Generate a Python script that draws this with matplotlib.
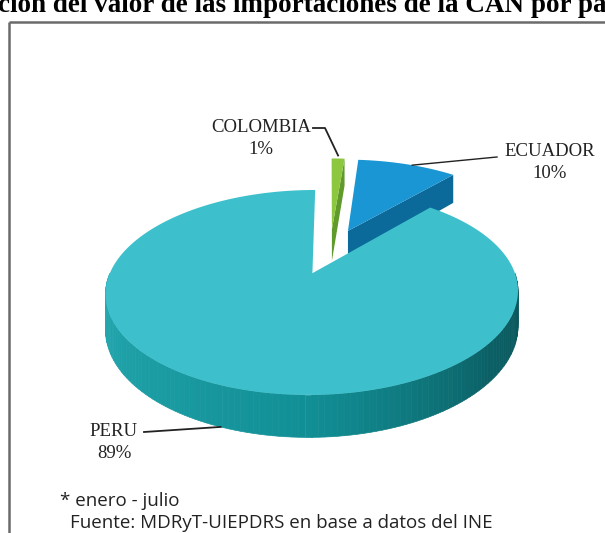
import numpy as np
import matplotlib.pyplot as plt
from matplotlib.patches import Polygon
from matplotlib.colors import to_rgb

paises = ['COLOMBIA', 'ECUADOR', 'PERU']
valores = [1.3, 10.0, 88.7]
etiquetas = ['1%', '10%', '89%']
col_top = ['#8dc63f', '#1a96d4', '#3dc0cc']
col_cara = ['#5f9a2b', '#0b6a99', '#0b6a70']

W, H = 605, 533
fig = plt.figure(figsize=(6.05, 5.33), dpi=100)
ax = fig.add_axes([0, 0, 1, 1])
ax.set_xlim(0, W)
ax.set_ylim(H, 0)
ax.axis('off')

# proyeccion "3D" con algo de perspectiva
cx, cy = 330, 251
rx, ry, k = 194, 90.7, 0.18
depth = 33
explode = 0.25

def proj(u, v, z=0.0):
    s = 1.0 / (1.0 + k * v)
    return cx + rx * u * s, cy - ry * v * s + z * s

def rim(off, t, z=0.0):
    return proj(off[0] + np.sin(t), off[1] + np.cos(t), z)

# gradiente de la pared frontal
ang_nodos = np.radians([90, 130, 180, 270])
col_nodos = np.array([to_rgb(c) for c in ['#0b5257', '#0b6166', '#118f95', '#27abb3']])

def pared_color(t):
    return [np.interp(t, ang_nodos, col_nodos[:, j]) for j in range(3)]

total = sum(valores)
fin = np.cumsum(valores) / total * 2 * np.pi
ini = np.concatenate([[0], fin[:-1]])

offsets = []
for i in range(len(valores)):
    t0, t1 = ini[i], fin[i]
    mid = (t0 + t1) / 2
    off = (explode * np.sin(mid), explode * np.cos(mid))
    offsets.append(off)
    apex_t = proj(off[0], off[1])
    apex_b = proj(off[0], off[1], depth)

    # caras radiales
    if np.sin(t1) > 1e-6:
        pts = [apex_t, rim(off, t1), rim(off, t1, depth), apex_b]
        ax.add_patch(Polygon(pts, closed=True, fc=col_cara[i], ec='none'))
    if np.sin(t0) < -1e-6:
        pts = [apex_t, rim(off, t0), rim(off, t0, depth), apex_b]
        ax.add_patch(Polygon(pts, closed=True, fc=col_cara[i], ec='none'))

    # pared exterior visible
    a = max(t0, np.pi / 2)
    b = min(t1, 3 * np.pi / 2)
    if b > a:
        ts = np.linspace(a, b, 120)
        for j in range(len(ts) - 1):
            pts = [rim(off, ts[j]), rim(off, ts[j + 1]),
                   rim(off, ts[j + 1], depth), rim(off, ts[j], depth)]
            c = pared_color((ts[j] + ts[j + 1]) / 2)
            ax.add_patch(Polygon(pts, closed=True, fc=c, ec=c, lw=0.5))

    # cara superior
    ts = np.linspace(t0, t1, 200)
    pts = [apex_t] + [rim(off, t) for t in ts]
    ax.add_patch(Polygon(pts, closed=True, fc=col_top[i], ec='none'))

# etiquetas y lineas guia
serif = 'Liberation Serif'
fs = 13.5
txt_pos = [(261, 128), (550, 152), (114, 432)]
for i, (x, y) in enumerate(txt_pos):
    ax.text(x, y, paises[i], ha='center', va='center', fontsize=fs,
            family=serif, color='#222222')
    ax.text(x, y + 22, etiquetas[i], ha='center', va='center', fontsize=fs,
            family=serif, color='#222222')

t_col = (ini[0] + fin[0]) / 2
px, py = rim(offsets[0], t_col)
ax.plot([313, 325, px], [128, 128, py - 3], color='#222222', lw=1.3)

t_ecu = ini[1] + 0.55 * (fin[1] - ini[1])
px, py = rim(offsets[1], t_ecu)
ax.plot([497, px], [157, py], color='#222222', lw=1.0)

t_per = np.radians(201)
px, py = rim(offsets[2], t_per, depth)
ax.plot([144, px], [432, py], color='#222222', lw=1.3)

# titulo recortado y marco
ax.text(302, 12, 'ción del valor de las importaciones de la CAN por pa',
        ha='center', va='baseline', fontsize=19.5, family=serif,
        fontweight='bold', color='black')
ax.plot([9, 9], [22, H], color='#6b6b6b', lw=1.8, solid_capstyle='butt')
ax.plot([9, W], [22, 22], color='#6b6b6b', lw=1.8, solid_capstyle='butt')

ax.text(60, 501, '* enero - julio', ha='left', va='center', fontsize=13.5,
        family='Open Sans', color='#222222')
ax.text(70, 523, 'Fuente: MDRyT-UIEPDRS en base a datos del INE', ha='left',
        va='center', fontsize=13.5, family='Open Sans', color='#222222')

fig.savefig('out.png', dpi=100)
